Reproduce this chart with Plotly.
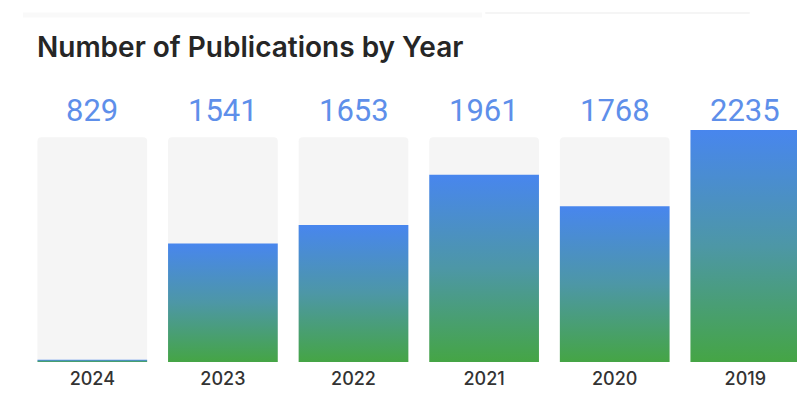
import plotly.graph_objects as go

years = ["2024", "2023", "2022", "2021", "2020", "2019"]
publications = [829, 1541, 1653, 1961, 1768, 2235]

# styling / scale constants
track_level = 2190
axis_floor = 815
axis_top = 2541
bar_width = 0.84
label_y = 0.8936

idx = list(range(len(years)))
fig = go.Figure()

# light grey "track" behind each bar
fig.add_trace(go.Bar(
    x=idx, y=[track_level] * len(years), width=bar_width,
    marker=dict(color="#f5f5f5", line_width=0, cornerradius=4),
    hoverinfo="skip", showlegend=False))

# gradient bars (green at bottom -> blue at top)
for i, v in zip(idx, publications):
    x0, x1 = i - bar_width / 2, i + bar_width / 2
    fig.add_trace(go.Scatter(
        x=[x0, x0, x1, x1, x0], y=[axis_floor, v, v, axis_floor, axis_floor],
        fill="toself", mode="lines", line=dict(width=0, color="rgba(0,0,0,0)"),
        fillgradient=dict(type="vertical",
                          colorscale=[[0, "#45a545"], [0.5, "#4d97a6"], [1, "#4886ee"]]),
        hoverinfo="skip", showlegend=False))

for i, v in zip(idx, publications):
    fig.add_annotation(x=i, y=label_y, xref="x", yref="paper", text=str(v),
                       yanchor="middle", showarrow=False,
                       font=dict(family="Roboto", size=31, color="#5e8fea"))

fig.update_layout(
    width=797, height=397,
    margin=dict(l=19, r=0, t=72, b=43),
    paper_bgcolor="white", plot_bgcolor="white",
    barmode="overlay",
    title=dict(text="Number of Publications by Year", x=29 / 797, xanchor="left",
               y=1 - 39 / 397, yanchor="middle",
               font=dict(family="Inter", size=28, color="#262626", weight=600)),
    xaxis=dict(range=[-0.5, 5.457], tickmode="array", tickvals=idx, ticktext=years,
               showgrid=False, zeroline=False, showline=False, ticks="",
               ticklabelstandoff=4,
               tickfont=dict(family="Inter", size=18, color="#333333", weight=500)),
    yaxis=dict(range=[axis_floor, axis_top], visible=False, showgrid=False, zeroline=False),
)

# faint header remnants at the very top
fig.add_shape(type="line", xref="paper", yref="paper", x0=0.589, x1=0.929,
              y0=1.2376, y1=1.2376, line=dict(color="#ebebeb", width=1))
fig.add_shape(type="line", xref="paper", yref="paper", x0=-0.005, x1=0.585,
              y0=1.2305, y1=1.2305, line=dict(color="#f9f9f9", width=5))

fig.write_html("out.html")
